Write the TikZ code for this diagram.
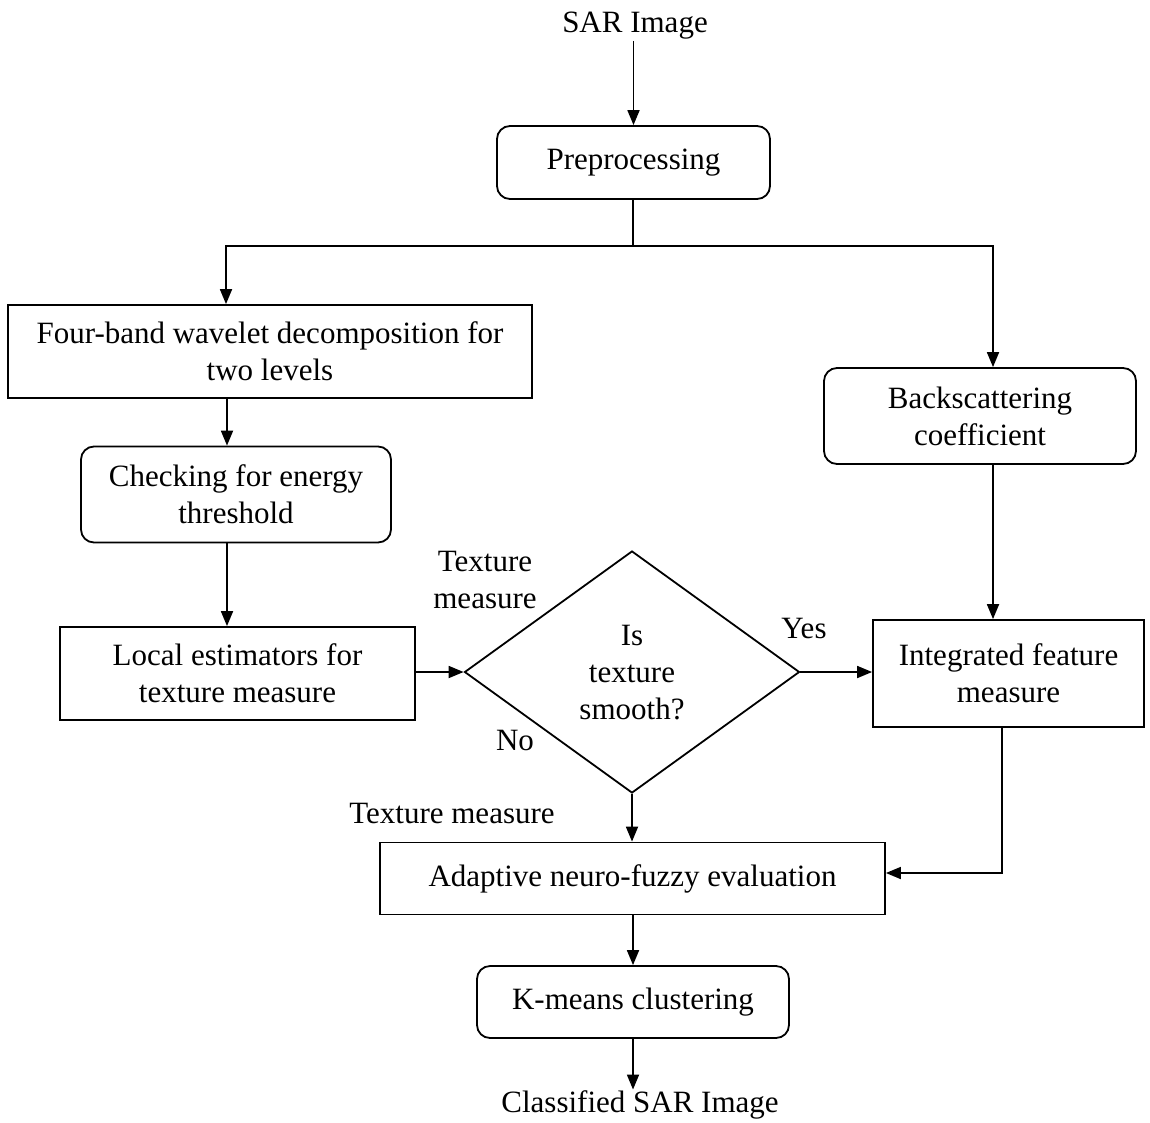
\documentclass[tikz,border=0pt]{standalone}
\usepackage{fontspec}
\setmainfont{Liberation Serif}
\usetikzlibrary{shapes.geometric,arrows.meta}
\begin{document}
\begin{tikzpicture}[x=1pt,y=-1pt,
  every node/.style={font=\fontsize{31}{37}\selectfont, text=black},
  box/.style={draw, line width=1.8pt, align=center, inner sep=2pt},
  rbox/.style={box, rounded corners=13pt},
  lbl/.style={align=center, inner sep=1pt},
  arr/.style={line width=1.8pt, -{Triangle[length=15pt,width=12pt]}},
  ln/.style={line width=1.8pt}]
\useasboundingbox (0,0) rectangle (1150,1122);

% input and output labels
\node[lbl] (sar) at (635,26) {SAR Image};
\node[lbl] (cls) at (640,1105) {Classified SAR Image};

% process boxes
\node[rbox, minimum width=273pt, minimum height=73pt] (pre) at (633.5,162.5) {Preprocessing};
\node[box, minimum width=524pt, minimum height=93pt] (four) at (270,351.5) {Four-band wavelet decomposition for\\two levels};
\node[rbox, minimum width=310pt, minimum height=96pt] (check) at (236,494.5) {Checking for energy\\threshold};
\node[box, minimum width=355pt, minimum height=93pt] (local) at (237.5,673.5) {Local estimators for\\texture measure};
\node[rbox, minimum width=312pt, minimum height=96pt] (back) at (980,416) {Backscattering\\coefficient};
\node[box, minimum width=271pt, minimum height=107pt] (integ) at (1008.5,673.5) {Integrated feature\\measure};
\node[box, minimum width=505pt, minimum height=72pt] (adapt) at (632.5,878.5) {Adaptive neuro-fuzzy evaluation};
\node[rbox, minimum width=312pt, minimum height=72pt] (kmeans) at (633,1002) {K-means clustering};

% decision
\node[draw, diamond, line width=1.8pt, minimum width=335pt, minimum height=242pt, inner sep=0pt] (dec) at (632,672) {};
\node[lbl] (dectext) at (632,673) {Is\\texture\\smooth?};

% edge labels
\node[lbl] (tm1) at (485,580) {Texture\\measure};
\node[lbl] (yes) at (804,628) {Yes};
\node[lbl] (no) at (515,740) {No};
\node[lbl] (tm2) at (452,813) {Texture measure};

% routing points
\coordinate (split) at (633,246);
\coordinate (lt) at (226,246);
\coordinate (rt) at (993,246);
\coordinate (colx) at (227,0);
\coordinate (ij) at (1002,873);

% connectors
\draw[arr] (pre.north |- sar.south) -- (pre.north);
\draw[ln] (split |- pre.south) -- (split);
\draw[arr] (split) -- (lt) -- (lt |- four.north);
\draw[arr] (split) -- (rt) -- (rt |- back.north);
\draw[arr] (colx |- four.south) -- (colx |- check.north);
\draw[arr] (colx |- check.south) -- (colx |- local.north);
\draw[arr] (local.east |- dec.west) -- (dec.west);
\draw[arr] (dec.east) -- (dec.east -| integ.west);
\draw[arr] (rt |- back.south) -- (rt |- integ.north);
\draw[arr] (dec.south) -- (dec.south |- adapt.north);
\draw[arr] (ij |- integ.south) -- (ij) -- (ij -| adapt.east);
\draw[arr] (adapt.south -| kmeans.north) -- (kmeans.north);
\draw[arr] (kmeans.south) -- (cls.north -| kmeans.south);
\end{tikzpicture}
\end{document}
